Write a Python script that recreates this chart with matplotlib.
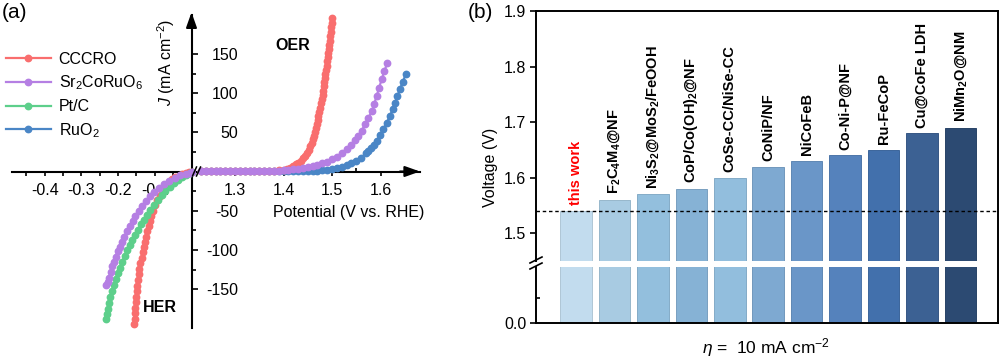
import matplotlib
matplotlib.use('Agg')
import matplotlib.pyplot as plt
from matplotlib.lines import Line2D
import numpy as np

plt.rcParams['font.family'] = ['Liberation Sans', 'DejaVu Sans']
plt.rcParams['mathtext.fontset'] = 'custom'
plt.rcParams['mathtext.rm'] = 'Liberation Sans'
plt.rcParams['mathtext.it'] = 'Liberation Sans:italic'
plt.rcParams['mathtext.bf'] = 'Liberation Sans:bold'
plt.rcParams['mathtext.default'] = 'regular'
plt.rcParams['axes.unicode_minus'] = False

# ---------------- data: panel (a) ----------------
series_names = ['CCCRO', 'Sr$_2$CoRuO$_6$', 'Pt/C', 'RuO$_2$']
series_colors = ['#f96e6e', '#b57fe3', '#5dcf8b', '#4a86c6']

cccro_oer_v = [1.23, 1.24, 1.25, 1.26, 1.27, 1.28, 1.29, 1.30, 1.31, 1.32, 1.33, 1.34,
               1.35, 1.36, 1.37, 1.38, 1.39, 1.400, 1.407, 1.413, 1.420, 1.426, 1.430,
               1.435, 1.440, 1.444, 1.448, 1.452, 1.455, 1.458, 1.461, 1.463, 1.465,
               1.467, 1.469, 1.471, 1.472, 1.474, 1.476, 1.478, 1.479, 1.4805, 1.482,
               1.483, 1.4835, 1.485, 1.4865, 1.488, 1.489, 1.490, 1.491, 1.4925, 1.493,
               1.494, 1.495, 1.496, 1.497, 1.498, 1.499, 1.4995]
cccro_oer_j = [0.3, 0.3, 0.3, 0.3, 0.4, 0.4, 0.4, 0.4, 0.5, 0.5, 0.5, 0.6,
               0.6, 0.7, 0.8, 1.0, 1.3, 2.0, 3.0, 4.7, 7.0, 9.5, 11,
               14, 17, 20, 24, 28, 32, 36.5, 41, 45.5, 50,
               55, 60.5, 66, 71, 76, 81.5, 87, 92, 97.5, 103,
               108.5, 114, 119, 124.5, 130, 135, 140.5, 145.5, 151, 156,
               161.5, 167, 172.5, 178, 184, 190, 196]

sr_oer_v = [1.23, 1.24, 1.25, 1.26, 1.27, 1.28, 1.29, 1.30, 1.31, 1.32, 1.33, 1.34,
            1.35, 1.36, 1.37, 1.38, 1.39, 1.40, 1.41, 1.42, 1.43, 1.44, 1.45, 1.46,
            1.47, 1.48, 1.49, 1.50, 1.51, 1.52, 1.53, 1.54, 1.548, 1.554, 1.561,
            1.568, 1.575, 1.582, 1.587, 1.592, 1.597, 1.6025, 1.608, 1.614]
sr_oer_j = [0.3, 0.3, 0.3, 0.3, 0.4, 0.4, 0.4, 0.4, 0.5, 0.5, 0.5, 0.6,
            0.6, 0.7, 0.8, 1.0, 1.2, 1.9, 2.4, 3.0, 3.7, 4.6, 5.5, 6.7,
            8.3, 10.3, 12.5, 15.5, 19, 23.5, 28.5, 34, 40, 45, 52,
            60, 68, 77, 86, 96.5, 106.5, 118, 128, 139]

ruo2_oer_v = [1.23, 1.24, 1.25, 1.26, 1.27, 1.28, 1.29, 1.30, 1.31, 1.32, 1.33, 1.34,
              1.35, 1.36, 1.37, 1.38, 1.39, 1.40, 1.41, 1.42, 1.43, 1.44, 1.45, 1.46,
              1.47, 1.48, 1.49, 1.50, 1.51, 1.52, 1.53, 1.54, 1.55, 1.56, 1.57, 1.575,
              1.58, 1.586, 1.592, 1.599, 1.606, 1.613, 1.6196, 1.625, 1.630, 1.635,
              1.640, 1.646, 1.652]
ruo2_oer_j = [0.2, 0.2, 0.2, 0.2, 0.2, 0.2, 0.2, 0.2, 0.3, 0.3, 0.3, 0.3,
              0.3, 0.3, 0.4, 0.4, 0.4, 0.5, 0.5, 0.6, 0.7, 0.7, 0.8, 0.9,
              1.1, 1.6, 2.3, 3.1, 4.3, 5.9, 8.0, 10.5, 13.5, 17.5, 23, 26,
              29.5, 34, 39, 46.5, 54, 62.5, 71, 79.5, 88, 96.5,
              105, 114.5, 124]

cccro_her_v = [-0.1555, -0.155, -0.154, -0.153, -0.152, -0.151, -0.1495, -0.148, -0.146,
               -0.144, -0.142, -0.139, -0.136, -0.133, -0.130, -0.127, -0.124, -0.121,
               -0.117, -0.114, -0.110, -0.105, -0.099, -0.093, -0.087, -0.081, -0.075,
               -0.068, -0.061, -0.053, -0.045, -0.035, -0.025, -0.015, -0.006, 0.0]
cccro_her_j = [-195, -188, -181, -174, -167, -160, -153, -146, -138,
               -131, -124, -117, -110, -103, -96, -89.5, -83, -76.5,
               -70, -63.5, -57, -50, -43, -36, -31, -26, -21,
               -17, -13.5, -10, -7.5, -5.5, -3.8, -2.3, -1.2, -0.5]

ptc_her_v = [-0.233, -0.2305, -0.228, -0.2245, -0.221, -0.2165, -0.212, -0.2065, -0.201,
             -0.195, -0.189, -0.182, -0.175, -0.1685, -0.162, -0.154, -0.146, -0.138,
             -0.130, -0.121, -0.112, -0.102, -0.092, -0.0815, -0.071, -0.0595, -0.048,
             -0.0365, -0.025, -0.014, -0.003, 0.0]
ptc_her_j = [-188, -181.5, -175, -167.5, -160, -152.5, -145, -137.5, -130,
             -122.5, -115, -107.5, -100, -93.5, -87, -80.5, -74, -67.5,
             -61.5, -55, -49, -42.5, -36, -30.5, -25, -19.5, -14.5,
             -10.5, -6.8, -4.0, -1.7, -1.2]

sr_her_v = [-0.232, -0.2285, -0.225, -0.2205, -0.216, -0.2115, -0.207, -0.201, -0.195,
            -0.189, -0.183, -0.1755, -0.168, -0.1605, -0.153, -0.1435, -0.134, -0.124,
            -0.114, -0.1015, -0.089, -0.0755, -0.062, -0.046, -0.030, -0.016, -0.003, 0.0]
sr_her_j = [-145, -140.5, -136, -128.5, -121, -115, -108.5, -102, -96,
            -89.5, -83, -76.5, -70, -63.5, -57, -50.5, -44.5, -38,
            -31.7, -26, -21, -16.5, -12.4, -8.5, -5, -3.2, -1.7, -1.0]

her_major = [-0.4, -0.3, -0.2, -0.1]
her_minor = [-0.45, -0.35, -0.25, -0.15, -0.05]
oer_major = [1.3, 1.4, 1.5, 1.6]
oer_minor = [1.25, 1.35, 1.45, 1.55, 1.65]
j_major = [-150, -100, -50, 50, 100, 150]
j_minor = [-125, -75, -25, 25, 75, 125]

# ---------------- data: panel (b) ----------------
catalysts = ['this work', 'F$_2$C$_4$M$_4$@NF', 'Ni$_3$S$_2$@MoS$_2$/FeOOH',
             'CoP/Co(OH)$_2$@NF', 'CoSe-CC/NiSe-CC', 'CoNiP/NF', 'NiCoFeB',
             'Co-Ni-P@NF', 'Ru-FeCoP', 'Cu@CoFe LDH', 'NiMn$_2$O@NM']
voltages = [1.54, 1.56, 1.57, 1.58, 1.60, 1.62, 1.63, 1.64, 1.65, 1.68, 1.69]
bar_colors = ['#c2dcee', '#a8cbe2', '#93bfdd', '#86b2d5', '#92bedd', '#7ea9d1',
              '#6a96c8', '#5582bc', '#4270ac', '#3c6193', '#2c4a72']
label_colors = ['red'] + ['black'] * 10
ref_voltage = 1.54
b_yticks = [1.5, 1.6, 1.7, 1.8, 1.9]

# ---------------- figure ----------------
W, H = 1000, 358
fig = plt.figure(figsize=(W / 100, H / 100), dpi=100)


def fx(px):
    return px / W


def fy(py):
    return 1 - py / H


FS = 11.5
ytop, ybot = 14.7, 328.3
axh = fig.add_axes([fx(11.7), fy(ybot), fx(191.5 - 11.7), (ybot - ytop) / H])
axo = fig.add_axes([fx(197.2), fy(ybot), fx(420 - 197.2), (ybot - ytop) / H])
for ax in (axh, axo):
    ax.set_facecolor('none')
    ax.set_ylim(-200, 200)
    ax.spines['top'].set_visible(False)
    ax.spines['left'].set_visible(False)
    ax.spines['bottom'].set_position(('data', 0))
    ax.spines['bottom'].set_linewidth(1.5)
axh.spines['right'].set_linewidth(1.5)
axo.spines['right'].set_visible(False)
axh.set_xlim(-0.49, 0)
axo.set_xlim(1.222, 1.6814)

mk = dict(marker='o', markersize=4.6, lw=1.6, clip_on=False, zorder=3)
# plotting order: RuO2, CCCRO, Pt/C, Sr2CoRuO6 (purple on top)
axo.plot(ruo2_oer_v, ruo2_oer_j, color=series_colors[3], **mk)
axo.plot(cccro_oer_v, cccro_oer_j, color=series_colors[0], **mk)
axo.plot(sr_oer_v, sr_oer_j, color=series_colors[1], **mk)
axh.plot(cccro_her_v, cccro_her_j, color=series_colors[0], **mk)
axh.plot(ptc_her_v, ptc_her_j, color=series_colors[2], **mk)
axh.plot(sr_her_v, sr_her_j, color=series_colors[1], **mk)

# x ticks
axh.set_xticks(her_major)
axh.set_xticklabels([f'{v:.1f}' for v in her_major])
axh.set_xticks(her_minor, minor=True)
axo.set_xticks(oer_major)
axo.set_xticklabels([f'{v:.1f}' for v in oer_major])
axo.set_xticks(oer_minor, minor=True)
for ax in (axh, axo):
    ax.tick_params(axis='x', which='major', direction='out', length=3, width=1.2,
                   labelsize=FS, pad=5.5)
    ax.tick_params(axis='x', which='minor', direction='out', length=3, width=1.2)
axo.tick_params(axis='x', which='minor', direction='in')
axo.set_yticks([])

# y ticks on the right side of the y axis
axh.yaxis.set_ticks_position('right')
axh.set_yticks(j_major)
axh.set_yticklabels([str(v) for v in j_major])
axh.set_yticks(j_minor, minor=True)
axh.tick_params(axis='y', which='major', direction='out', length=4, width=1.2,
                labelsize=FS, pad=29.5, labelright=True, labelleft=False)
axh.tick_params(axis='y', which='minor', direction='out', length=3, width=1.2)
for t in axh.yaxis.get_major_ticks():
    t.label2.set_horizontalalignment('right')

# axis arrows
axh.annotate('', xy=(0, 203), xytext=(0, 185), xycoords='data',
             arrowprops=dict(arrowstyle='-|>,head_length=0.9,head_width=0.32',
                             color='black', lw=1.5, shrinkA=0, shrinkB=0),
             annotation_clip=False)
axo.annotate('', xy=(1.6814, 0), xytext=(1.64, 0), xycoords='data',
             arrowprops=dict(arrowstyle='-|>,head_length=0.9,head_width=0.32',
                             color='black', lw=1.5, shrinkA=0, shrinkB=0),
             annotation_clip=False)

# axis break marks on the x axis of panel (a)
for x0 in (192.5, 196.5):
    fig.add_artist(Line2D([fx(x0), fx(x0 + 4)], [fy(176), fy(167)], color='black', lw=1.1))

# texts panel (a)
fig.text(fx(2), fy(13), '(a)', fontsize=15, ha='left', va='center')
fig.text(fx(166), fy(62), '$\\mathit{J}$ (mA cm$^{-2}$)', fontsize=FS, rotation=90,
         ha='center', va='center')
fig.text(fx(292.5), fy(45), 'OER', fontsize=FS, fontweight='bold', ha='center', va='center')
fig.text(fx(160), fy(307.5), 'HER', fontsize=FS, fontweight='bold', ha='center', va='center')
fig.text(fx(348.5), fy(212), 'Potential (V vs. RHE)', fontsize=FS, ha='center', va='center')

handles = [Line2D([], [], color=c, marker='o', markersize=4.6, lw=1.6) for c in series_colors]
fig.legend(handles, series_names, loc='upper left', bbox_to_anchor=(fx(6), fy(52)),
           frameon=False, fontsize=FS, handlelength=2.8, handletextpad=0.5,
           labelspacing=0.42, borderpad=0, borderaxespad=0, numpoints=1)

# ---------------- panel (b) ----------------
axb = fig.add_axes([fx(536), fy(261), fx(998 - 536), (261 - 11) / H])
axb2 = fig.add_axes([fx(536), fy(323), fx(998 - 536), (323 - 267) / H])
xpos = np.arange(len(catalysts))
edge_cols = []
for c in bar_colors:
    r, g, b = matplotlib.colors.to_rgb(c)
    edge_cols.append((r * 0.9, g * 0.9, b * 0.9))
for ax in (axb, axb2):
    ax.bar(xpos, voltages, width=0.82, color=bar_colors, edgecolor=edge_cols, linewidth=0.7)
    ax.set_xlim(-1.04, 10.975)
    ax.set_xticks([])
    ax.spines['right'].set_visible(False)
    for s in ax.spines.values():
        s.set_linewidth(1.4)
axb.set_ylim(1.45, 1.9)
axb2.set_ylim(0, 0.22)
axb.spines['bottom'].set_visible(False)
axb2.spines['top'].set_visible(False)
axb.set_yticks(b_yticks)
axb.set_yticklabels([f'{v:.1f}' for v in b_yticks])
axb.tick_params(axis='y', direction='out', length=4, width=1.2, labelsize=FS, pad=3)
axb2.set_yticks([0.0])
axb2.set_yticklabels(['0.0'])
axb2.set_yticks([0.1], minor=True)
axb2.tick_params(axis='y', which='major', direction='out', length=4, width=1.2,
                 labelsize=FS, pad=3)
axb2.tick_params(axis='y', which='minor', direction='in', length=3, width=1.2)
axb.axhline(ref_voltage, color='black', lw=1.0, ls=(0, (2.5, 2)), zorder=3)

for i, (lab, v) in enumerate(zip(catalysts, voltages)):
    axb.annotate(lab, xy=(xpos[i], v), xytext=(0, 4), textcoords='offset points',
                 rotation=90, ha='center', va='bottom', fontsize=10.5,
                 fontweight='bold', color=label_colors[i])

# right spine spanning both parts
fig.add_artist(Line2D([fx(998), fx(998)], [fy(11), fy(323)], color='black', lw=1.4))
# break marks on the left spine
for y0 in (263, 269):
    fig.add_artist(Line2D([fx(530), fx(542)], [fy(y0), fy(y0 - 6)], color='black', lw=1.2))

fig.text(fx(490), fy(167), 'Voltage (V)', fontsize=FS, rotation=90, ha='center', va='center')
fig.text(fx(766), fy(348), '$\\mathit{\\eta}$ =  10 mA cm$^{-2}$', fontsize=FS + 1,
         ha='center', va='center')
fig.text(fx(468), fy(13), '(b)', fontsize=15, ha='left', va='center')

fig.savefig('out.png', dpi=100)
